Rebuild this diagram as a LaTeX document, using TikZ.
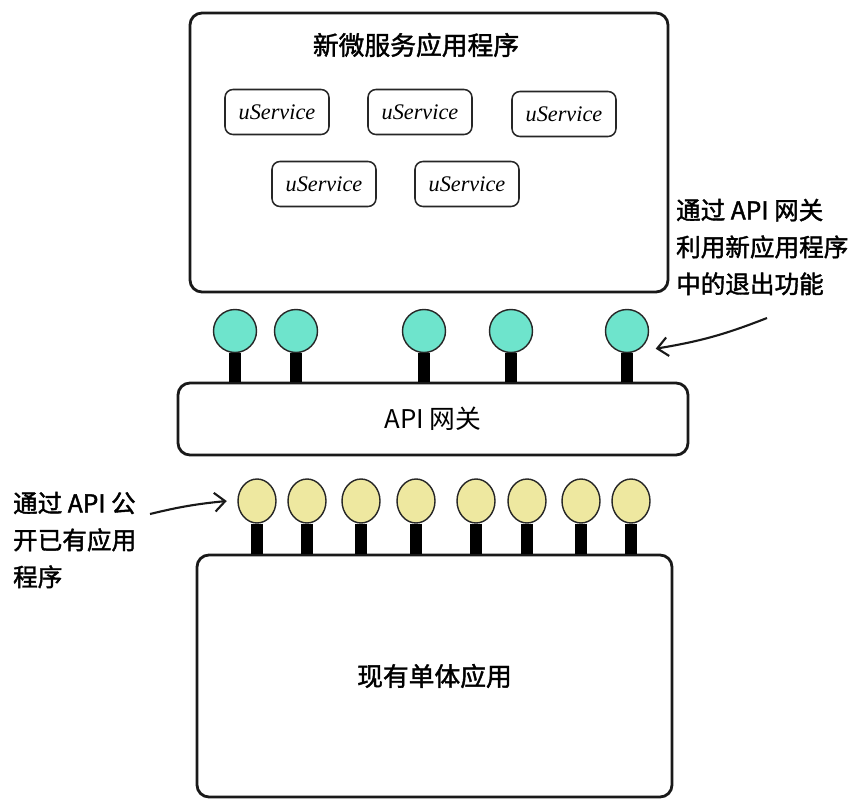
\documentclass[tikz,border=0pt]{standalone}
\usepackage{fontspec}
\usepackage{xcolor}
\usepackage{tikz}
\usetikzlibrary{arrows.meta,positioning,shapes,calc}
\setmainfont{Noto Sans CJK SC}[AutoFakeBold=1.6]
\newfontfamily\handfont{Liberation Serif}
\definecolor{portgreen}{RGB}{110,228,204}
\definecolor{portyellow}{RGB}{238,232,160}
\tikzset{
  % 大框
  bigbox/.style={
    draw=black!90,
    line width=2.4pt,
    rounded corners=3.6mm,
    fill=white
  },
  % 微服务小框
  svcbox/.style={
    draw=black!85,
    line width=1.3pt,
    rounded corners=2.4mm,
    minimum width=31.2mm,
    minimum height=13.5mm,
    font=\handfont\itshape\fontsize{19}{21}\selectfont
  },
  % 接口圆点
  gport/.style={circle, draw=black!85, line width=1.2pt, fill=portgreen, minimum size=12.9mm, inner sep=0pt},
  yport/.style={ellipse, draw=black!85, line width=1.2pt, fill=portyellow,
    minimum width=11.4mm, minimum height=13.2mm, inner sep=0pt},
  % 接口杆
  stem/.style={line width=10pt, black},
  % 文字
  boxlab/.style={font=\bfseries\fontsize{22}{26}\selectfont},
  note/.style={font=\bfseries\fontsize{21}{31.5}\selectfont, align=left, anchor=west},
  % 箭头样式
  arr/.style={-{Straight Barb[length=9pt,width=16pt]}, line width=1.8pt, black!90},
}
\begin{document}
\begin{tikzpicture}[x=0.3mm,y=-0.3mm]
  \useasboundingbox (0,0) rectangle (866,799);

  % 新微服务应用程序
  \node[bigbox, minimum width=143.4mm, minimum height=83.7mm] (newapp) at (429,152.5) {};
  \node[boxlab] (newtitle) at (416,45) {新微服务应用程序};
  \node[svcbox] (s1) at (277,112) {uService};
  \node[svcbox] (s2) at (420,112) {uService};
  \node[svcbox] (s3) at (564,114) {uService};
  \node[svcbox] (s4) at (324,184) {uService};
  \node[svcbox] (s5) at (467,184) {uService};

  % API 网关
  \node[bigbox, minimum width=153mm, minimum height=21.6mm, boxlab, font=\mdseries\fontsize{22}{26}\selectfont] (gw) at (433,419) {API 网关};
  \foreach \x [count=\i] in {235,296,424,511,627} {
    \node[gport] (g\i) at (\x,331) {};
    \draw[stem] (g\i.south) -- (g\i.south |- gw.north);
  }

  % 现有单体应用
  \node[bigbox, minimum width=142.5mm, minimum height=72.6mm, boxlab] (mono) at (434.5,676) {现有单体应用};
  \foreach \x [count=\i] in {257,307,361,416,476,527,581,631} {
    \node[yport] (y\i) at (\x,501) {};
    \draw[stem] (y\i.south) -- (y\i.south |- mono.north);
  }

  % 说明文字
  \node[note] (rnote) at (672,247) {通过 API 网关\\利用新应用程序\\中的退出功能};
  \node[note] (lnote) at (9,540) {通过 API 公\\开已有应用\\程序};

  \coordinate (rtail) at (767,318);
  \draw[arr] (rtail) to[bend left=6] ([shift={(13,2)}]g5.south east);
  \coordinate (ltail) at (150,514);
  \draw[arr] (ltail) to[bend left=4] ([xshift=-9]y1.west);
\end{tikzpicture}
\end{document}
